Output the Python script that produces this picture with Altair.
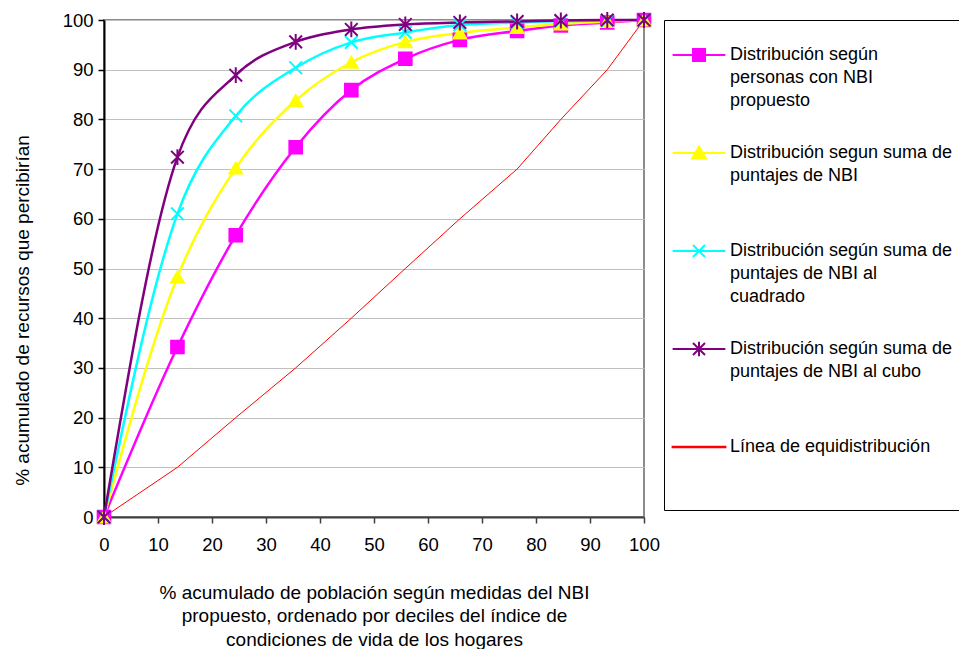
import altair as alt
import pandas as pd

# ---- data ----
x_pob = [0, 13.6, 24.4, 35.5, 45.8, 55.8, 65.9, 76.5, 84.6, 93.2, 100]
personas = [0, 34.2, 56.7, 74.4, 85.9, 92.2, 96.0, 97.8, 98.9, 99.5, 100]
suma = [0, 48.3, 70.2, 83.8, 91.5, 95.6, 97.4, 98.5, 99.2, 99.7, 100]
cuadrado = [0, 61.0, 80.7, 90.4, 95.5, 97.5, 99.0, 99.5, 99.8, 99.9, 100]
cubo = [0, 72.4, 88.9, 95.6, 98.1, 99.1, 99.5, 99.7, 99.9, 100, 100]
equi = [0, 10, 20, 30, 40, 50, 60, 70, 80, 90, 100]

names = [
    "Distribución según\npersonas con NBI\npropuesto",
    "Distribución segun suma de\npuntajes de NBI",
    "Distribución según suma de\npuntajes de NBI al\ncuadrado",
    "Distribución según suma de\npuntajes de NBI al cubo",
    "Línea de equidistribución",
]
colors = ["#FF00FF", "#FFFF00", "#00FFFF", "#800080", "#FF0000"]
series_vals = [personas, suma, cuadrado, cubo, equi]

x_title = [
    "% acumulado de población según medidas del NBI",
    "propuesto, ordenado por deciles del índice de",
    "condiciones de vida de los hogares",
]
y_title = "% acumulado de recursos que percibirían"
ticks = list(range(0, 101, 10))

rows = []
for n, vals in zip(names, series_vals):
    for xv, yv in zip(x_pob, vals):
        rows.append({"serie": n, "x": xv, "y": yv})
df = pd.DataFrame(rows)

FONT = "Liberation Sans"

# marker shapes in plot
plot_shapes = [
    "square",
    "triangle-up",
    "M-1,-1L1,1M-1,1L1,-1",
    "M-1,-1L1,1M-1,1L1,-1M0,-1.25L0,1.25",
]
# legend symbols: line + marker (shifted down to sit on the first label line)
leg_shapes = [
    "M-4.4,1.5L4.4,1.5M-1,0.5L1,0.5L1,2.5L-1,2.5Z",
    "M-4.4,1.5L4.4,1.5M0,0.4L1.15,2.4L-1.15,2.4Z",
    "M-4.4,1.5L4.4,1.5M-1,0.5L1,2.5M-1,2.5L1,0.5",
    "M-4.4,1.5L4.4,1.5M-1,0.5L1,2.5M-1,2.5L1,0.5M0,0.3L0,2.7",
    "M-4.4,1.44L4.4,1.44L4.4,1.56L-4.4,1.56Z",
]
leg_strokes = ["#FF00FF", "#FFFF00", "#00FFFF", "#800080", "transparent"]


def arr(v):
    return "[" + ",".join("'" + s + "'" for s in v) + "]"


color_scale = alt.Scale(domain=names, range=colors)
xs = alt.X("x:Q", scale=alt.Scale(domain=[0, 100], nice=False),
           axis=alt.Axis(values=ticks, title=x_title, grid=False))
ys = alt.Y("y:Q", scale=alt.Scale(domain=[0, 100], nice=False),
           axis=alt.Axis(values=ticks, title=y_title, grid=True))

legend = alt.Legend(
    title=" ",
    titleFontSize=1,
    titlePadding=8,
    orient="none",
    legendX=560,
    legendY=0,
    padding=8,
    strokeColor="black",
    fillColor="white",
    symbolSize=144,
    symbolOffset=18,
    symbolStrokeWidth=2,
    symbolType=alt.ExprRef(arr(leg_shapes) + "[datum.index]"),
    symbolFillColor=alt.ExprRef(arr(colors) + "[datum.index]"),
    symbolStrokeColor=alt.ExprRef(arr(leg_strokes) + "[datum.index]"),
    symbolOpacity=1,
    labelFont=FONT,
    labelFontSize=18,
    labelColor="black",
    labelLimit=500,
    labelOffset=22,
    labelBaseline="top",
    rowPadding=25,
    labelExpr="slice(split(datum.label + '\\n\\n', '\\n'), 0, 3)",
)

curves = alt.Chart(df).transform_filter(
    alt.FieldOneOfPredicate(field="serie", oneOf=names[:4])
).mark_line(interpolate="monotone", strokeWidth=2.5).encode(
    x=xs, y=ys,
    color=alt.Color("serie:N", scale=color_scale, legend=legend),
)

equi_line = alt.Chart(df).transform_filter(
    alt.FieldEqualPredicate(field="serie", equal=names[4])
).mark_line(strokeWidth=1).encode(
    x=xs, y=ys,
    color=alt.Color("serie:N", scale=color_scale),
)

points = alt.Chart(df).transform_filter(
    alt.FieldOneOfPredicate(field="serie", oneOf=names[:4])
).mark_point(filled=True, size=160, strokeWidth=2, opacity=1).encode(
    x=xs, y=ys,
    fill=alt.Fill("serie:N", scale=alt.Scale(domain=names[:4], range=colors[:4]), legend=None),
    stroke=alt.Stroke("serie:N", scale=alt.Scale(domain=names[:4], range=colors[:4]), legend=None),
    shape=alt.Shape("serie:N", scale=alt.Scale(domain=names[:4], range=plot_shapes), legend=None),
)

chart = alt.layer(curves, equi_line, points).properties(
    width=540,
    height=497,
    autosize=alt.AutoSizeParams(type="none"),
    padding={"left": 104, "top": 20, "right": 315, "bottom": 132},
    background="white",
).resolve_scale(
    fill="independent", stroke="independent", shape="independent"
).configure(
    style={"guide-label": {"lineHeight": 23}}
).configure_view(
    stroke="#8c8c8c", strokeWidth=2
).configure_axis(
    labelFont=FONT, labelFontSize=18.5, labelColor="black",
    titleFont=FONT, titleFontSize=19, titleFontWeight="normal", titleColor="black",
    tickColor="black", tickSize=6, tickWidth=1.5,
    domainColor="black", domainWidth=2,
    gridColor="#c0c0c0", gridWidth=1,
    labelFlush=False,
).configure_axisX(
    labelPadding=12, labelAngle=0,
    titleLineHeight=23.5, titleBaseline="top", titleY=66,
    domainColor="#404040", tickColor="#404040",
).configure_axisY(
    labelPadding=5,
    titleAngle=270, titleAlign="center", titleBaseline="middle",
    titleX=-82, titleY=290,
)

chart.save("out.html", embed_options={"renderer": "svg", "actions": False})
